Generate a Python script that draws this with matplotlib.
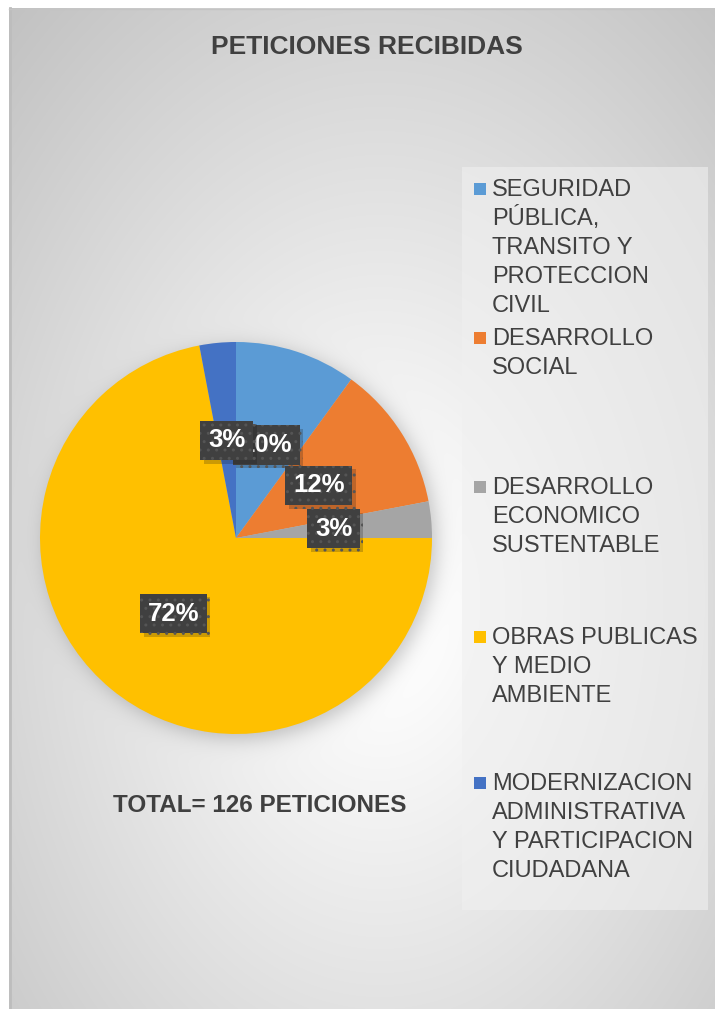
import numpy as np
import matplotlib
matplotlib.use("Agg")
import matplotlib.pyplot as plt
import matplotlib.patheffects as pe
from matplotlib.patches import Rectangle

plt.rcParams['font.family'] = ['Liberation Sans', 'DejaVu Sans']
plt.rcParams['hatch.linewidth'] = 1.0

# datos del grafico (porcentaje de peticiones por area)
areas = [
    "SEGURIDAD\nPÚBLICA,\nTRANSITO Y\nPROTECCION\nCIVIL",
    "DESARROLLO\nSOCIAL",
    "DESARROLLO\nECONOMICO\nSUSTENTABLE",
    "OBRAS PUBLICAS\nY MEDIO\nAMBIENTE",
    "MODERNIZACION\nADMINISTRATIVA\nY PARTICIPACION\nCIUDADANA",
]
porcentajes = [10, 12, 3, 72, 3]
colores = ["#5B9BD5", "#ED7D31", "#A5A5A5", "#FFC000", "#4472C4"]
titulo = "PETICIONES RECIBIDAS"
total_txt = "TOTAL= 126 PETICIONES"

W, H = 715, 1009
TXT = "#404040"
cx, cy, r = 236, 538, 196

fig = plt.figure(figsize=(W / 100, H / 100), dpi=100)

# fondo con degradado radial y sombra del pastel
yy, xx = np.mgrid[0:H, 0:W] + 0.5
d = np.hypot((xx - 380) / 360, (yy - 600) / 520)
gris = np.clip(1.02 - 0.17 * d, 0, 1)
ds = np.hypot(xx - (cx + 5), yy - (cy + 5))
sombra = 0.22 / (1 + np.exp((ds - r) / 6.0))
gris = gris * (1 - sombra)
gris[(xx < 9) | (yy < 8)] = 1.0
img = np.dstack([gris, gris, gris])

bg = fig.add_axes([0, 0, 1, 1])
bg.imshow(img, extent=(0, W, H, 0), interpolation="bilinear", aspect="auto")
bg.set_xlim(0, W)
bg.set_ylim(H, 0)
bg.axis("off")
bg.plot([10, 10], [8, H], color="#bdbdbd", lw=2)
bg.plot([9, W], [8.5, 8.5], color="#c4c4c4", lw=1)

# titulo y total
bg.text(367, 54, titulo, ha="center", va="baseline", fontsize=19,
        fontweight="bold", color=TXT)
bg.text(260, 812, total_txt, ha="center", va="baseline", fontsize=17.5,
        fontweight="bold", color=TXT)

# leyenda
bg.add_patch(Rectangle((462, 167), 246, 743, facecolor=(0.94, 0.94, 0.94),
                       alpha=0.6, edgecolor="none"))
bases = [196, 345, 494, 644, 790]
for etiqueta, col, y0 in zip(areas, colores, bases):
    bg.add_patch(Rectangle((474, y0 - 13), 11.5, 11.5, facecolor=col,
                           edgecolor="none"))
    for i, linea in enumerate(etiqueta.split("\n")):
        bg.text(492, y0 + i * 28.9, linea, ha="left", va="baseline",
                fontsize=17, color=TXT)

# pastel
ax = fig.add_axes([(cx - r) / W, (H - cy - r) / H, 2 * r / W, 2 * r / H])
wedges, _, autotexts = ax.pie(
    porcentajes, colors=colores, startangle=90, counterclock=False,
    radius=1, pctdistance=0.5, autopct=lambda p: f"{p:.0f}%",
    wedgeprops=dict(linewidth=0),
)
ax.set_xlim(-1, 1)
ax.set_ylim(-1, 1)
ax.set_aspect("equal")
ax.axis("off")

for t in autotexts:
    t.set_color("white")
    t.set_fontsize(18.5)
    t.set_fontweight("bold")
    t.set_bbox(dict(boxstyle="square,pad=0.3", facecolor="#404040",
                    edgecolor="#555555", hatch="..", linewidth=0))
    t.get_bbox_patch().set_path_effects(
        [pe.SimplePatchShadow(offset=(2.5, -2.5), alpha=0.22), pe.Normal()])

fig.savefig("out.png", dpi=100)
